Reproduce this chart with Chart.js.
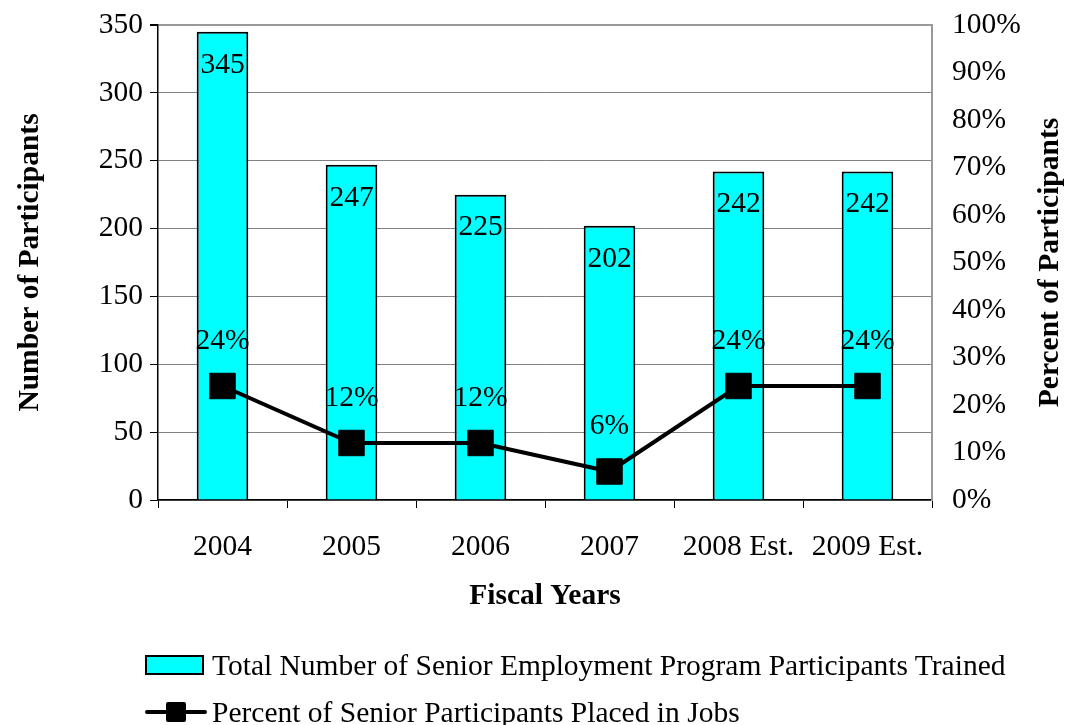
<!DOCTYPE html>
<html lang="en">
<head>
<meta charset="UTF-8">
<title>Senior Employment Program Participants</title>
<script src="https://cdn.jsdelivr.net/npm/chart.js"></script>
<style>
  body {
    margin: 0;
    background: #fff;
    font-family: "Liberation Serif", "Times New Roman", serif;
  }
  #wrap {
    position: relative;
    width: 1065px;
    height: 725px;
  }
  .legend-row {
    position: absolute;
    left: 145px;
    height: 30px;
    display: flex;
    align-items: center;
    font-size: 29.5px;
    color: #000;
    white-space: nowrap;
  }
  .swatch-bar {
    width: 55px;
    height: 16px;
    background: #00ffff;
    border: 2px solid #000;
    margin-right: 8px;
  }
  .swatch-line {
    position: relative;
    width: 62px;
    height: 30px;
    margin-right: 5px;
  }
  .swatch-line::before {
    content: "";
    position: absolute;
    left: 0;
    right: 0;
    top: 13px;
    height: 4px;
    background: #000;
    border-radius: 2px;
  }
  .swatch-line::after {
    content: "";
    position: absolute;
    left: 21px;
    top: 5px;
    width: 20px;
    height: 20px;
    background: #000;
    border-radius: 2px;
  }
</style>
</head>
<body>
<div id="wrap">
  <canvas id="seniorChart" width="1065" height="725"></canvas>
  <div class="legend-row" style="top: 650px;"><span class="swatch-bar"></span>Total Number of Senior Employment Program Participants Trained</div>
  <div class="legend-row" style="top: 697px;"><span class="swatch-line"></span>Percent of Senior Participants Placed in Jobs</div>
</div>

<script>
  const years = ['2004', '2005', '2006', '2007', '2008 Est.', '2009 Est.'];
  const trained = [345, 247, 225, 202, 242, 242];
  const placedPct = [24, 12, 12, 6, 24, 24];

  const FONT = '"Liberation Serif", "Times New Roman", serif';
  Chart.defaults.font.family = FONT;
  Chart.defaults.color = '#000';

  // numbers inside the bars, percentages above the squares
  const valueLabels = {
    id: 'valueLabels',
    afterDatasetsDraw(chart) {
      const ctx = chart.ctx;
      const bars = chart.getDatasetMeta(0).data;
      const pts = chart.getDatasetMeta(1).data;
      ctx.save();
      ctx.font = '29.5px ' + FONT;
      ctx.fillStyle = '#000';
      ctx.textAlign = 'center';
      ctx.textBaseline = 'middle';
      bars.forEach((bar, i) => ctx.fillText(trained[i], bar.x, bar.y + 33));
      pts.forEach((p, i) => ctx.fillText(placedPct[i] + '%', p.x, p.y - 45));
      ctx.restore();
    }
  };

  // right axis title reads bottom-to-top like the left one
  const rightTitle = {
    id: 'rightTitle',
    afterDraw(chart) {
      const ctx = chart.ctx;
      const s = chart.scales.y1;
      ctx.save();
      ctx.translate(s.right - 15, (chart.chartArea.top + chart.chartArea.bottom) / 2);
      ctx.rotate(-Math.PI / 2);
      ctx.font = 'bold 29.5px ' + FONT;
      ctx.fillStyle = '#000';
      ctx.textAlign = 'center';
      ctx.textBaseline = 'middle';
      ctx.fillText('Percent of Participants', 0, 0);
      ctx.restore();
    }
  };

  // fixed axis sizes so the plot area sits where it should
  const fitSide = w => s => {
    s.width = w;
    s.paddingTop = 0;
    s.paddingBottom = 0;
  };

  const ctx = document.getElementById('seniorChart').getContext('2d');
  new Chart(ctx, {
    data: {
      labels: years,
      datasets: [
        {
          type: 'bar',
          label: 'Total Number of Senior Employment Program Participants Trained',
          data: trained,
          yAxisID: 'y',
          backgroundColor: '#00ffff',
          borderColor: '#000',
          borderWidth: 2,
          barPercentage: 0.4,
          categoryPercentage: 1,
          order: 1
        },
        {
          type: 'line',
          label: 'Percent of Senior Participants Placed in Jobs',
          data: placedPct,
          yAxisID: 'y1',
          borderColor: '#000',
          borderWidth: 4,
          tension: 0,
          pointStyle: 'rect',
          pointRadius: 18,
          pointBackgroundColor: '#000',
          pointBorderColor: '#000',
          pointBorderWidth: 1,
          order: 0
        }
      ]
    },
    options: {
      responsive: false,
      animation: false,
      layout: { padding: { top: 25, bottom: 110, left: 0, right: 0 } },
      plugins: {
        legend: { display: false },
        tooltip: { enabled: false }
      },
      scales: {
        x: {
          grid: {
            offset: true,
            drawOnChartArea: false,
            drawTicks: true,
            tickLength: 8,
            color: '#000'
          },
          border: { color: '#000', width: 1.5 },
          ticks: { font: { size: 29.5 }, padding: 22 },
          title: {
            display: true,
            text: 'Fiscal Years',
            font: { size: 29.5, weight: 'bold', lineHeight: 1 },
            padding: { top: 0, bottom: 4 }
          },
          afterFit: s => {
            s.height = 115;
            s.paddingLeft = 0;
            s.paddingRight = 0;
          }
        },
        y: {
          position: 'left',
          min: 0,
          max: 350,
          ticks: { stepSize: 50, font: { size: 29.5 }, padding: 7 },
          grid: {
            color: c => c.tick && c.tick.value === 350 ? '#999' : '#808080',
            lineWidth: c => c.tick && c.tick.value === 350 ? 2 : 1,
            tickColor: '#000',
            tickLength: 8
          },
          border: { color: '#000', width: 1.5 },
          title: {
            display: true,
            text: 'Number of Participants',
            font: { size: 29.5, weight: 'bold', lineHeight: 1 },
            padding: { top: 16, bottom: 0 }
          },
          afterFit: fitSide(158)
        },
        y1: {
          position: 'right',
          min: 0,
          max: 100,
          ticks: {
            stepSize: 10,
            font: { size: 29.5 },
            padding: 20,
            callback: v => v + '%'
          },
          grid: { display: false, drawTicks: false },
          border: { color: '#999', width: 2 },
          title: { display: false },
          afterFit: fitSide(133)
        }
      }
    },
    plugins: [valueLabels, rightTitle]
  });
</script>
</body>
</html>
